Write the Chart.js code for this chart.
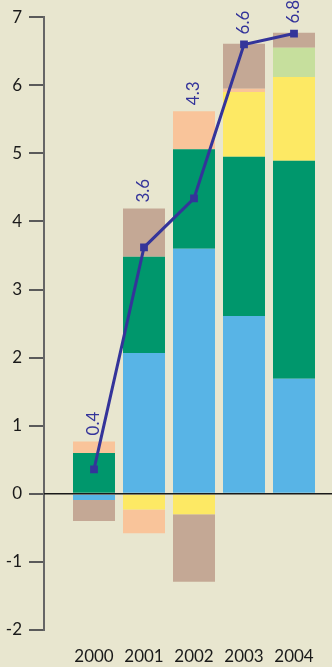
<!DOCTYPE html>
<html>
<head>
<meta charset="utf-8">
<script src="https://cdn.jsdelivr.net/npm/chart.js@4.4.1/dist/chart.umd.min.js"></script>
<style>
  html, body { margin: 0; padding: 0; background: #e8e6cf; overflow: hidden; }
  canvas { display: block; }
</style>
</head>
<body>
<canvas id="chart" width="332" height="667"></canvas>
<script>
// Yearly contributions (stacked bars) and the resulting total (line)
const years = ['2000', '2001', '2002', '2003', '2004'];
const blueSeries = [-0.09, 2.07, 3.60, 2.61, 1.69];
const greenSeries = [0.60, 1.41, 1.46, 2.34, 3.20];
const yellowSeries = [0, -0.23, -0.30, 0.95, 1.23];
const peachSeries = [0.17, -0.35, 0.56, 0.05, 0];
const paleGreenSeries = [0, 0, 0, 0, 0.43];
const taupeSeries = [-0.31, 0.71, -0.99, 0.66, 0.22];
const totalSeries = [0.36, 3.62, 4.34, 6.60, 6.76];
const yTickValues = [-2, -1, 0, 1, 2, 3, 4, 5, 6, 7];

const NAVY = '#34349a';
const FONT = 'Lato';

const barSets = [
  { data: blueSeries, color: '#58b4e6' },
  { data: greenSeries, color: '#00976c' },
  { data: yellowSeries, color: '#fde964' },
  { data: peachSeries, color: '#f9c49a' },
  { data: paleGreenSeries, color: '#c6df9d' },
  { data: taupeSeries, color: '#c4a895' }
];

const datasets = barSets.map(s => ({
  type: 'bar',
  data: s.data,
  backgroundColor: s.color,
  borderWidth: 0,
  barPercentage: 0.84,
  categoryPercentage: 1,
  order: 1
}));

datasets.push({
  type: 'line',
  data: totalSeries,
  borderColor: NAVY,
  borderWidth: 3,
  pointStyle: 'rect',
  pointRadius: 5.5,
  pointBackgroundColor: NAVY,
  pointBorderWidth: 0,
  tension: 0,
  stack: 'total',
  order: 0
});
const lineIndex = datasets.length - 1;

// Zero line plus the rotated total labels above each column
const totalsPlugin = {
  id: 'totalsPlugin',
  afterDatasetsDraw(chart) {
    const { ctx, chartArea, scales } = chart;
    const y = scales.y;
    const y0 = y.getPixelForValue(0);
    ctx.save();
    ctx.strokeStyle = '#1a1a1a';
    ctx.lineWidth = 1.5;
    ctx.beginPath();
    ctx.moveTo(chartArea.left, y0);
    ctx.lineTo(chartArea.right, y0);
    ctx.stroke();

    const lineMeta = chart.getDatasetMeta(lineIndex);
    ctx.font = '17px ' + FONT;
    ctx.fillStyle = NAVY;
    ctx.textAlign = 'left';
    ctx.textBaseline = 'middle';
    years.forEach((yr, i) => {
      const positiveTop = barSets.reduce((acc, s) => acc + Math.max(0, s.data[i]), 0);
      const pt = lineMeta.data[i];
      const bottom = Math.min(y.getPixelForValue(positiveTop), pt.y - 4) - 6;
      ctx.save();
      ctx.translate(pt.x, bottom);
      ctx.rotate(-Math.PI / 2);
      ctx.fillText(totalSeries[i].toFixed(1), 0, 0);
      ctx.restore();
    });
    ctx.restore();
  }
};

Chart.defaults.font.family = FONT;

new Chart(document.getElementById('chart'), {
  type: 'bar',
  data: { labels: years, datasets },
  options: {
    responsive: false,
    animation: false,
    devicePixelRatio: 1,
    layout: { autoPadding: false, padding: { top: 16, right: 0, bottom: 0, left: 0 } },
    plugins: { legend: { display: false }, tooltip: { enabled: false } },
    scales: {
      x: {
        type: 'linear',
        stacked: true,
        offset: false,
        bounds: 'data',
        min: 1999,
        max: 2004.76,
        afterBuildTicks(s) { s.ticks = years.map(v => ({ value: +v })); },
        afterFit(s) { s.height = 37; s.paddingLeft = 0; s.paddingRight = 0; },
        ticks: {
          padding: 8,
          color: '#1a1a1a',
          font: { size: 17 },
          maxRotation: 0,
          autoSkip: false,
          callback: v => String(v)
        },
        grid: { display: false },
        border: { display: false }
      },
      y: {
        stacked: true,
        min: -2,
        max: 7,
        afterBuildTicks(s) { s.ticks = yTickValues.map(v => ({ value: v })); },
        afterFit(s) { s.width = 44; },
        ticks: { padding: 7, color: '#1a1a1a', font: { size: 17 } },
        grid: { drawOnChartArea: false, drawTicks: true, tickLength: 15, color: '#5a5a5a', lineWidth: 2 },
        border: { display: true, color: '#666666', width: 2 }
      }
    }
  },
  plugins: [totalsPlugin]
});
</script>
</body>
</html>
